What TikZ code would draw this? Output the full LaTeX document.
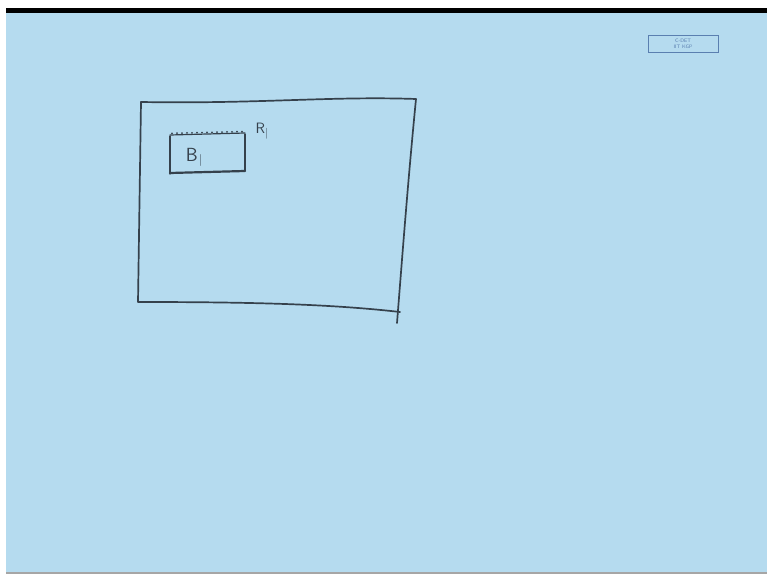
\documentclass[tikz,border=0pt]{standalone}
\usepackage{tikz}
\definecolor{board}{HTML}{B5DBEF}
\definecolor{ink}{HTML}{35414C}
\definecolor{logo}{HTML}{5A7FB0}
\begin{document}
\begin{tikzpicture}[x=1pt,y=-1pt,
  pen/.style={draw=ink,line width=1.7pt,line cap=round,line join=round},
  thinpen/.style={draw=ink,line width=1.2pt,line cap=round},
  hand/.style={text=ink,inner sep=0pt}]
\useasboundingbox (0,0) rectangle (767,577);
\fill[white] (0,0) rectangle (767,577);
\fill[board] (6,12) rectangle (767,573);
\fill[black] (6,8) rectangle (767,13);
\fill[gray!70] (6,572) rectangle (767,574);
% logo
\node[draw=logo,line width=0.6pt,minimum width=70pt,minimum height=17pt,inner sep=0pt,
  font=\fontsize{5}{5.5}\selectfont\sffamily,text=logo,align=center] (logo) at (683,44) {C-DET\\IIT KGP};
% large rectangle
\draw[pen] (141,102) .. controls (260,104) and (330,96) .. (416,99)
  .. controls (408,180) and (402,260) .. (397,323);
\draw[pen] (141,102) -- (138,302) .. controls (250,302) and (330,304) .. (400,312);
% small box
\draw[thinpen] (170,136) -- (170,174);
\draw[thinpen] (245,134) -- (245,171);
\draw[pen,line width=2.2pt] (170,173) -- (245,171);
\draw[thinpen] (170,135) -- (245,133);
\foreach \i in {0,...,14}{\fill[ink] (172+\i*5,133.3-\i*0.12) circle (1pt);}
\node[hand,font=\fontsize{19}{19}\selectfont\sffamily] (B1) at (194,157) {B\kern1pt\raisebox{-2pt}{\fontsize{12}{12}\selectfont\textbar}};
\node[hand,font=\fontsize{15}{15}\selectfont\sffamily] (R1) at (262,131) {R\kern0.5pt\raisebox{-3pt}{\fontsize{11}{11}\selectfont\textbar}};
\end{tikzpicture}
\end{document}
